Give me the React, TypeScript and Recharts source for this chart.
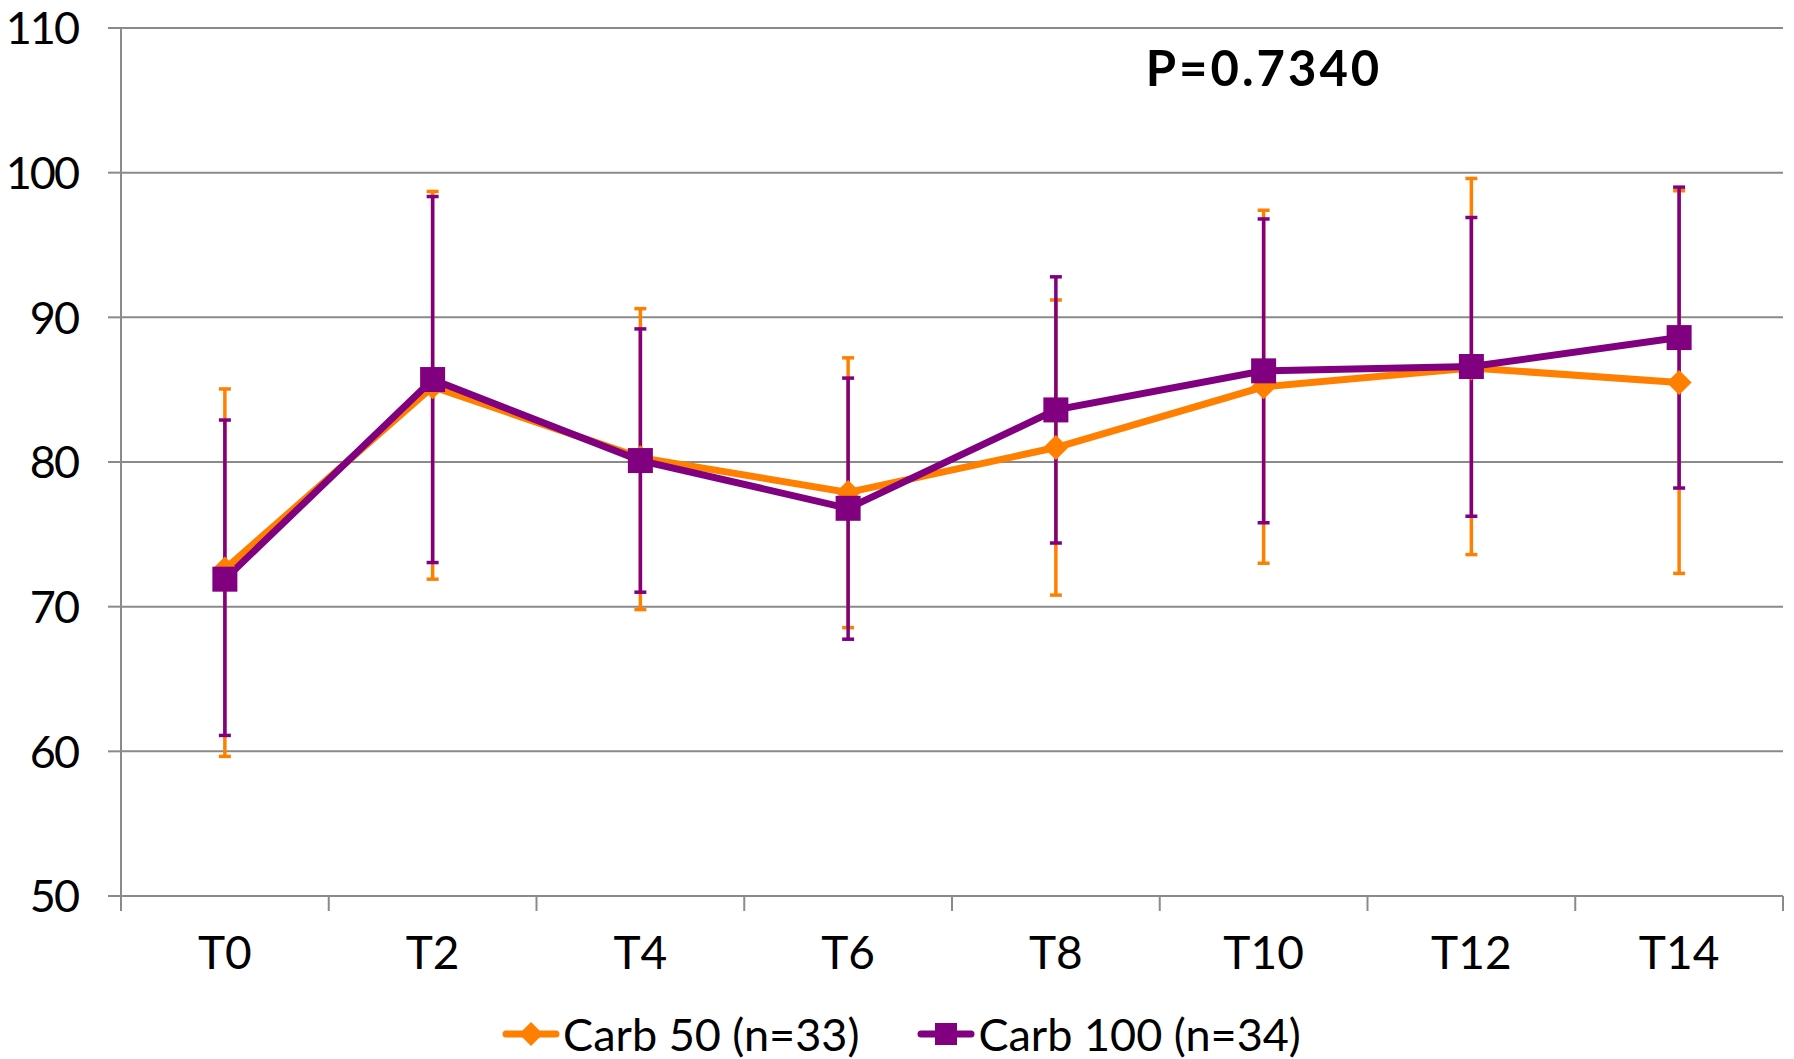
import { LineChart, Line, XAxis, YAxis, CartesianGrid, ErrorBar, Legend } from 'recharts'

const categories = ['T0', 'T2', 'T4', 'T6', 'T8', 'T10', 'T12', 'T14']
const carb50Mean = [72.6, 85.2, 80.3, 77.9, 81.0, 85.2, 86.5, 85.5]
const carb50High = [85.05, 98.7, 90.6, 87.2, 91.2, 97.4, 99.6, 98.75]
const carb50Low = [59.65, 71.9, 69.8, 68.55, 70.8, 73.0, 73.6, 72.3]
const carb100Mean = [71.9, 85.7, 80.1, 76.8, 83.6, 86.3, 86.6, 88.6]
const carb100High = [82.9, 98.35, 89.2, 85.8, 92.8, 96.8, 96.9, 99.0]
const carb100Low = [61.1, 73.05, 71.0, 67.75, 74.4, 75.8, 76.25, 78.2]
const yTicks = [50, 60, 70, 80, 90, 100, 110]
const seriesNames = ['Carb 50 (n=33)', 'Carb 100 (n=34)']
const pValue = 'P=0.7340'

const ORANGE = '#FF8000'
const PURPLE = '#800080'
const GRID = '#8a8a8a'
const FONT = 'Lato, "Open Sans", sans-serif'

const data = categories.map((t, i) => ({
  t,
  carb50: carb50Mean[i],
  err50: [carb50Mean[i] - carb50Low[i], carb50High[i] - carb50Mean[i]],
  carb100: carb100Mean[i],
  err100: [carb100Mean[i] - carb100Low[i], carb100High[i] - carb100Mean[i]],
}))

function CategoryTick(props: any) {
  const { x, y, payload, index } = props
  const half = payload?.offset ?? 0
  return (
    <g>
      <line x1={x - half} x2={x - half} y1={y} y2={y + 15} stroke={GRID} strokeWidth={2} />
      {index === categories.length - 1 && (
        <line x1={x + half} x2={x + half} y1={y} y2={y + 15} stroke={GRID} strokeWidth={2} />
      )}
      <text x={x} y={y + 40} dy="0.71em" textAnchor="middle" fill="#000" fontSize={46} fontFamily={FONT}>
        {payload.value}
      </text>
    </g>
  )
}

function ValueTick(props: any) {
  const { x, y, payload } = props
  return (
    <text x={x} y={y} dy="0.36em" textAnchor="end" fill="#000" fontSize={45} fontFamily={FONT} letterSpacing={-2}>
      {payload.value}
    </text>
  )
}

function Diamond(props: any) {
  const { cx, cy, index } = props
  if (cx == null || cy == null) return <g key={`d${index}`} />
  const r = 12.5
  return (
    <polygon
      key={`d${index}`}
      points={`${cx},${cy - r} ${cx + r},${cy} ${cx},${cy + r} ${cx - r},${cy}`}
      fill={ORANGE}
    />
  )
}

function Square(props: any) {
  const { cx, cy, index } = props
  if (cx == null || cy == null) return <g key={`s${index}`} />
  const s = 12.5
  return <rect key={`s${index}`} x={cx - s} y={cy - s} width={s * 2} height={s * 2} fill={PURPLE} />
}

function LegendIcon({ color, shape }: { color: string; shape: 'diamond' | 'square' }) {
  return (
    <svg width={58} height={30} style={{ display: 'block' }}>
      <line x1={4} x2={54} y1={15} y2={15} stroke={color} strokeWidth={7} strokeLinecap="round" />
      {shape === 'diamond' ? (
        <polygon points="29,3 41,15 29,27 17,15" fill={color} />
      ) : (
        <rect x={18} y={4} width={22} height={22} fill={color} />
      )}
    </svg>
  )
}

function LegendContent() {
  return (
    <div
      style={{
        display: 'flex',
        justifyContent: 'center',
        alignItems: 'center',
        height: 50,
        fontFamily: FONT,
        fontSize: 45,
        color: '#000',
        gap: 58,
        paddingLeft: 20,
      }}
    >
      <div style={{ display: 'flex', alignItems: 'center', gap: 3 }}>
        <LegendIcon color={ORANGE} shape="diamond" />
        <span>{seriesNames[0]}</span>
      </div>
      <div style={{ display: 'flex', alignItems: 'center', gap: 3 }}>
        <LegendIcon color={PURPLE} shape="square" />
        <span>{seriesNames[1]}</span>
      </div>
    </div>
  )
}

export default function App() {
  return (
    <div style={{ position: 'absolute', left: 0, top: 0, width: 1794, height: 1059, background: '#fff' }}>
      <LineChart width={1794} height={1059} data={data} margin={{ top: 28, right: 11, bottom: 0, left: 0 }}>
        <CartesianGrid vertical={false} stroke={GRID} strokeWidth={2} />
        <XAxis
          dataKey="t"
          scale="band"
          height={113}
          axisLine={{ stroke: GRID, strokeWidth: 2 }}
          tickLine={false}
          tickSize={0}
          tickMargin={0}
          tick={<CategoryTick />}
          interval={0}
        />
        <YAxis
          domain={[50, 110]}
          ticks={yTicks}
          width={121}
          axisLine={{ stroke: GRID, strokeWidth: 2 }}
          tickLine={{ stroke: GRID, strokeWidth: 2 }}
          tickSize={13}
          tickMargin={30}
          tick={<ValueTick />}
          allowDataOverflow
        />
        <Legend verticalAlign="bottom" height={50} content={() => <LegendContent />} />
        <Line
          dataKey="carb50"
          name={seriesNames[0]}
          stroke={ORANGE}
          strokeWidth={7}
          dot={Diamond}
          activeDot={false}
          isAnimationActive={false}
        >
          <ErrorBar dataKey="err50" direction="y" width={6} stroke={ORANGE} strokeWidth={3.5} isAnimationActive={false} />
        </Line>
        <Line
          dataKey="carb100"
          name={seriesNames[1]}
          stroke={PURPLE}
          strokeWidth={7}
          dot={Square}
          activeDot={false}
          isAnimationActive={false}
        >
          <ErrorBar dataKey="err100" direction="y" width={6} stroke={PURPLE} strokeWidth={3.5} isAnimationActive={false} />
        </Line>
      </LineChart>
      <div
        style={{
          position: 'absolute',
          left: 1264,
          top: 43,
          transform: 'translateX(-50%)',
          fontFamily: FONT,
          fontWeight: 700,
          fontSize: 49,
          lineHeight: 1,
          letterSpacing: 3,
          color: '#000',
          whiteSpace: 'nowrap',
        }}
      >
        {pValue}
      </div>
    </div>
  )
}
